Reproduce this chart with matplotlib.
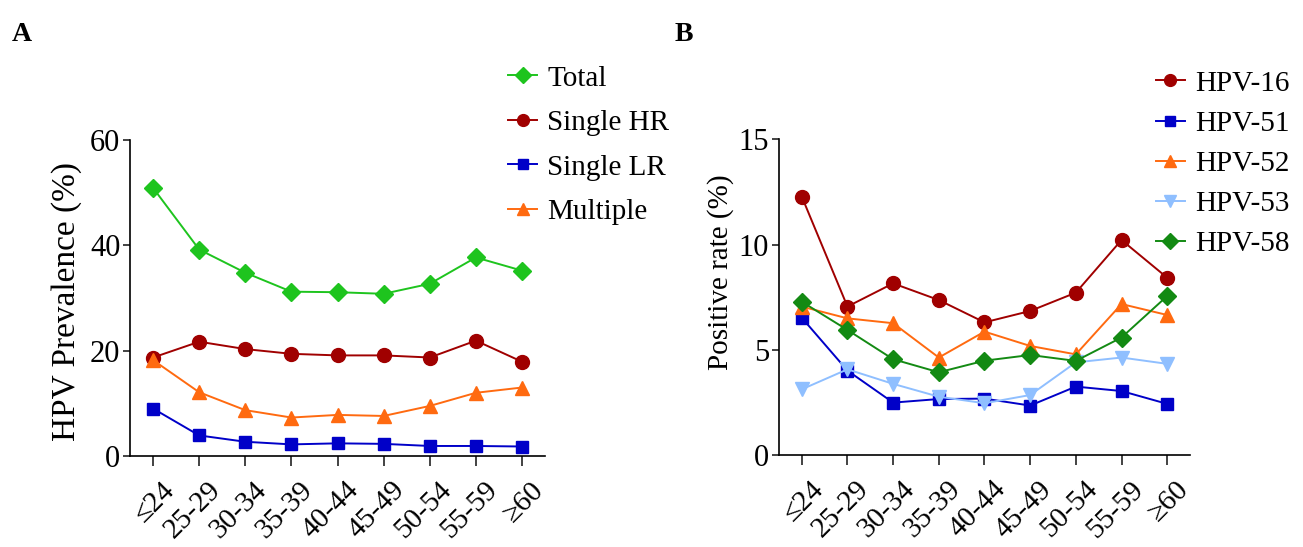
import matplotlib.pyplot as plt
import matplotlib.transforms as mtransforms
import numpy as np

plt.rcParams['font.family'] = ['Liberation Serif', 'DejaVu Serif']

ages = ['≤24', '25-29', '30-34', '35-39', '40-44', '45-49', '50-54', '55-59', '≥60']

# panel A: HPV prevalence (%)
total = [50.9, 39.2, 34.8, 31.2, 31.1, 30.8, 32.7, 37.7, 35.2]
single_hr = [18.7, 21.7, 20.3, 19.4, 19.1, 19.1, 18.7, 21.9, 17.9]
single_lr = [9.0, 3.9, 2.7, 2.2, 2.4, 2.3, 1.9, 1.9, 1.8]
multiple = [18.2, 12.1, 8.7, 7.3, 7.8, 7.6, 9.5, 12.0, 13.0]

# panel B: positive rate (%) by genotype
hpv16 = [12.28, 7.06, 8.16, 7.37, 6.31, 6.85, 7.72, 10.22, 8.43]
hpv51 = [6.53, 4.02, 2.50, 2.67, 2.69, 2.36, 3.26, 3.05, 2.44]
hpv52 = [7.06, 6.50, 6.27, 4.64, 5.87, 5.19, 4.79, 7.18, 6.66]
hpv53 = [3.13, 4.08, 3.39, 2.78, 2.47, 2.86, 4.41, 4.64, 4.34]
hpv58 = [7.29, 5.95, 4.56, 3.94, 4.49, 4.76, 4.48, 5.59, 7.56]

fig = plt.figure(figsize=(13.03, 5.47), dpi=100)
axA = fig.add_axes([0.0998, 0.1664, 0.3185, 0.5776])
axB = fig.add_axes([0.5978, 0.1677, 0.3155, 0.5776])

x = np.arange(len(ages))
lw = 1.4
ms = 9

axA.plot(x, total, color='#1ec41e', marker='D', ms=ms, lw=lw, label='Total')
axA.plot(x, single_hr, color='#a00000', marker='o', ms=ms + 1, lw=lw, label='Single HR')
axA.plot(x, single_lr, color='#0000c8', marker='s', ms=ms, lw=lw, label='Single LR')
axA.plot(x, multiple, color='#ff6a10', marker='^', ms=ms + 1, lw=lw, label='Multiple')

axB.plot(x, hpv16, color='#a00000', marker='o', ms=ms + 1, lw=lw, label='HPV-16')
axB.plot(x, hpv51, color='#0000c8', marker='s', ms=ms, lw=lw, label='HPV-51')
axB.plot(x, hpv52, color='#ff6a10', marker='^', ms=ms + 1, lw=lw, label='HPV-52')
axB.plot(x, hpv53, color='#8fbfff', marker='v', ms=ms + 1, lw=lw, label='HPV-53')
axB.plot(x, hpv58, color='#138a13', marker='D', ms=ms, lw=lw, label='HPV-58')

axA.set_ylim(0, 60)
axA.set_yticks([0, 20, 40, 60])
axA.set_ylabel('HPV Prevalence (%)', fontsize=24, va='center')
axA.yaxis.set_label_coords(-0.153, 0.49)
axB.set_ylim(0, 15)
axB.set_yticks([0, 5, 10, 15])
axB.set_ylabel('Positive rate (%)', fontsize=21, va='center')
axB.yaxis.set_label_coords(-0.143, 0.58)

offset = mtransforms.ScaledTranslation(6 / 72, 0, fig.dpi_scale_trans)
for ax in (axA, axB):
    ax.set_xlim(-0.5, 8.5)
    ax.set_xticks(x)
    ax.set_xticklabels(ages)
    ax.spines['top'].set_visible(False)
    ax.spines['right'].set_visible(False)
    ax.spines['left'].set_linewidth(1.2)
    ax.spines['bottom'].set_linewidth(1.2)
    ax.tick_params(axis='both', width=1.2, color='#222222')
    ax.tick_params(axis='x', length=7, pad=8, labelsize=21)
    ax.tick_params(axis='y', length=5, pad=2, labelsize=22)
    for lab in ax.get_xticklabels():
        lab.set_rotation(45)
        lab.set_ha('right')
        lab.set_rotation_mode('anchor')
        lab.set_transform(lab.get_transform() + offset)

fig.legend(handles=axA.get_lines(), loc='upper left', bbox_to_anchor=(0.381, 0.902),
           frameon=False, fontsize=21, handlelength=1.0, handletextpad=0.35,
           labelspacing=0.62, borderaxespad=0, markerscale=0.85)
fig.legend(handles=axB.get_lines(), loc='upper left', bbox_to_anchor=(0.878, 0.893),
           frameon=False, fontsize=21, handlelength=1.0, handletextpad=0.35,
           labelspacing=0.47, borderaxespad=0, markerscale=0.85)

fig.text(0.009, 0.925, 'A', fontsize=20, fontweight='bold')
fig.text(0.518, 0.925, 'B', fontsize=20, fontweight='bold')

fig.savefig('out.png', dpi=100)
